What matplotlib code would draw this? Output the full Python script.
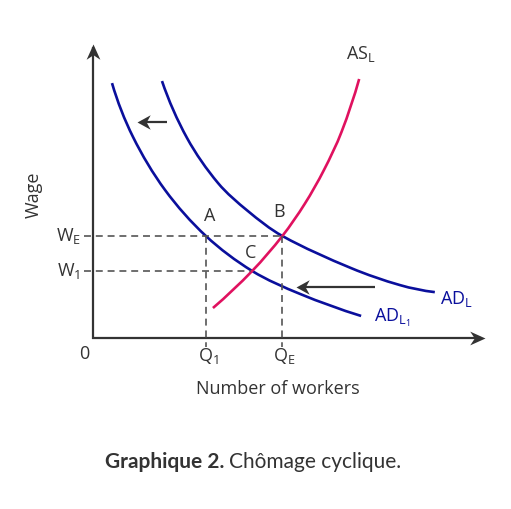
import numpy as np
import matplotlib
matplotlib.use("Agg")
import matplotlib.pyplot as plt
from matplotlib.path import Path
from matplotlib.patches import PathPatch

plt.rcParams['font.family'] = ['Open Sans', 'DejaVu Sans']
plt.rcParams['mathtext.fontset'] = 'custom'
plt.rcParams['mathtext.rm'] = 'Open Sans'
plt.rcParams['mathtext.it'] = 'Open Sans'
plt.rcParams['lines.scale_dashes'] = False

# points (x = workers, y = wage, arbitrary 0-100 units)
adl1_x = [4.85, 10.2, 18.4, 28.8, 40.6, 52.8, 68.4]
adl1_y = [86.7, 68.4, 50.3, 34.7, 22.8, 15.0, 7.5]
adl_x = [17.6, 24.0, 31.9, 39.5, 48.3, 65.8, 78.3, 87.2]
adl_y = [87.4, 68.0, 52.7, 43.2, 34.7, 23.8, 18.0, 15.6]
asl_x = [30.6, 40.6, 48.3, 54.0, 58.9, 63.4, 67.9]
asl_y = [10.2, 22.8, 34.7, 45.6, 57.1, 70.1, 88.1]

q_vals = [28.8, 48.3]
q_labels = [r'Q$_{\mathrm{1}}$', r'Q$_{\mathrm{E}}$']
w_vals = [34.7, 22.8]
w_labels = [r'W$_{\mathrm{E}}$', r'W$_{\mathrm{1}}$']

points = {'A': (29.8, 41.5), 'B': (47.4, 42.9), 'C': (40.3, 28.9)}

# shift arrows: (start x, tip x, y)
shifts = [(18.9, 11.2, 73.5), (71.9, 51.8, 17.3)]

BLUE = '#0a0f9c'
PINK = '#e0115f'
DARK = '#333333'
SX, SY = 3.92, 2.94  # pixels per data unit, so the smoothing works in screen space


def smooth(xs, ys):
    # spline through the read points with chord-length tangents, as bezier segments
    p = np.column_stack([np.array(xs) * SX, np.array(ys) * SY])
    n = len(p)
    d = np.linalg.norm(np.diff(p, axis=0), axis=1)
    m = np.zeros_like(p)
    for i in range(1, n - 1):
        m[i] = (p[i + 1] - p[i - 1]) / (d[i - 1] + d[i])
    m[0] = 2 * (p[1] - p[0]) / d[0] - m[1]
    m[-1] = 2 * (p[-1] - p[-2]) / d[-1] - m[-2]
    verts = [p[0]]
    codes = [Path.MOVETO]
    for i in range(n - 1):
        verts += [p[i] + m[i] * d[i] / 3, p[i + 1] - m[i + 1] * d[i] / 3, p[i + 1]]
        codes += [Path.CURVE4] * 3
    verts = np.array(verts) / [SX, SY]
    return Path(verts, codes)


def head(direction, h):
    # concave arrow head with its tip at the origin
    v = np.array([(0, 0), (-1, -h), (-0.7, 0), (-1, h), (0, 0)])
    if direction == 'left':
        v = v * [-1, 1]
    elif direction == 'up':
        v = np.column_stack([-v[:, 1], v[:, 0]])
    return Path(v, [Path.MOVETO, Path.LINETO, Path.LINETO, Path.LINETO, Path.CLOSEPOLY])


fig = plt.figure(figsize=(5.11, 5.09), dpi=100)
ax = fig.add_axes([93 / 511, 171 / 509, 392 / 511, 294 / 509])
ax.set_xlim(0, 100)
ax.set_ylim(0, 100)
ax.axis('off')

# axes with arrows
ax.plot([0, 0], [-0.3, 99], color=DARK, lw=1.6, clip_on=False, solid_capstyle='butt')
ax.plot([-0.2, 99], [0, 0], color=DARK, lw=1.6, clip_on=False, solid_capstyle='butt')
ax.plot([0], [100], marker=head('up', 0.45), ms=22, color=DARK, mew=0, clip_on=False)
ax.plot([100], [0], marker=head('right', 0.45), ms=22, color=DARK, mew=0, clip_on=False)

# dashed guides
dash = dict(color='#555555', lw=1.2, linestyle=(0, (5, 3.5)), clip_on=False)
ax.plot([-2.3, q_vals[1]], [w_vals[0], w_vals[0]], **dash)
ax.plot([-2.3, points['C'][0]], [w_vals[1], w_vals[1]], **dash)
ax.plot([q_vals[0], q_vals[0]], [w_vals[0], -3.1], **dash)
ax.plot([q_vals[1], q_vals[1]], [w_vals[0], -3.1], **dash)

# curves
for xs, ys, col in [(adl1_x, adl1_y, BLUE), (adl_x, adl_y, BLUE), (asl_x, asl_y, PINK)]:
    ax.add_patch(PathPatch(smooth(xs, ys), fill=False, edgecolor=col, lw=1.9,
                           capstyle='butt', clip_on=False))

# shift arrows
for x0, x1, y in shifts:
    ax.plot([x0, x1 + 1], [y, y], color=DARK, lw=1.6, solid_capstyle='butt')
    ax.plot([x1], [y], marker=head('left', 0.55), ms=19, color=DARK, mew=0)

# labels
fs = 13
for k, (x, y) in points.items():
    ax.text(x, y, k, fontsize=fs, color=DARK, ha='center', va='center')
for w, lab in zip(w_vals, w_labels):
    ax.text(-3.1, w, lab, fontsize=fs, color=DARK, ha='right', va='center')
for q, lab in zip(q_vals, q_labels):
    ax.text(q + 0.6, -6.0, lab, fontsize=fs, color=DARK, ha='center', va='center')
ax.text(-2.2, -5.6, '0', fontsize=fs, color=DARK, ha='center', va='center')
ax.text(47.2, -17.2, 'Number of workers', fontsize=fs, color=DARK, ha='center', va='center')
ax.text(-15.0, 48.6, 'Wage', fontsize=fs, color=DARK, ha='center', va='center', rotation=90)
ax.text(68.3, 96.5, r'AS$_{\mathrm{L}}$', fontsize=fs, color=DARK, ha='center', va='center')
ax.text(88.6, 13.2, r'AD$_{\mathrm{L}}$', fontsize=fs, color=BLUE, ha='left', va='center')
ax.text(71.7, 6.8, r'AD$_{\mathrm{L}_{\mathrm{1}}}$', fontsize=fs, color=BLUE, ha='left', va='center')

# caption: bold part, then regular part right after it
cy = 1 - 462 / 509
t1 = fig.text(105 / 511, cy, 'Graphique 2.', fontsize=15, fontweight='bold',
              family=['Lato', 'DejaVu Sans'], color=DARK, ha='left', va='center')
fig.canvas.draw()
bb = t1.get_window_extent()
fig.text((bb.x1 + 5) / 511, cy, 'Chômage cyclique.', fontsize=15,
         family=['Lato', 'DejaVu Sans'], color=DARK, ha='left', va='center')

fig.savefig('out.png', dpi=100, facecolor='white')
